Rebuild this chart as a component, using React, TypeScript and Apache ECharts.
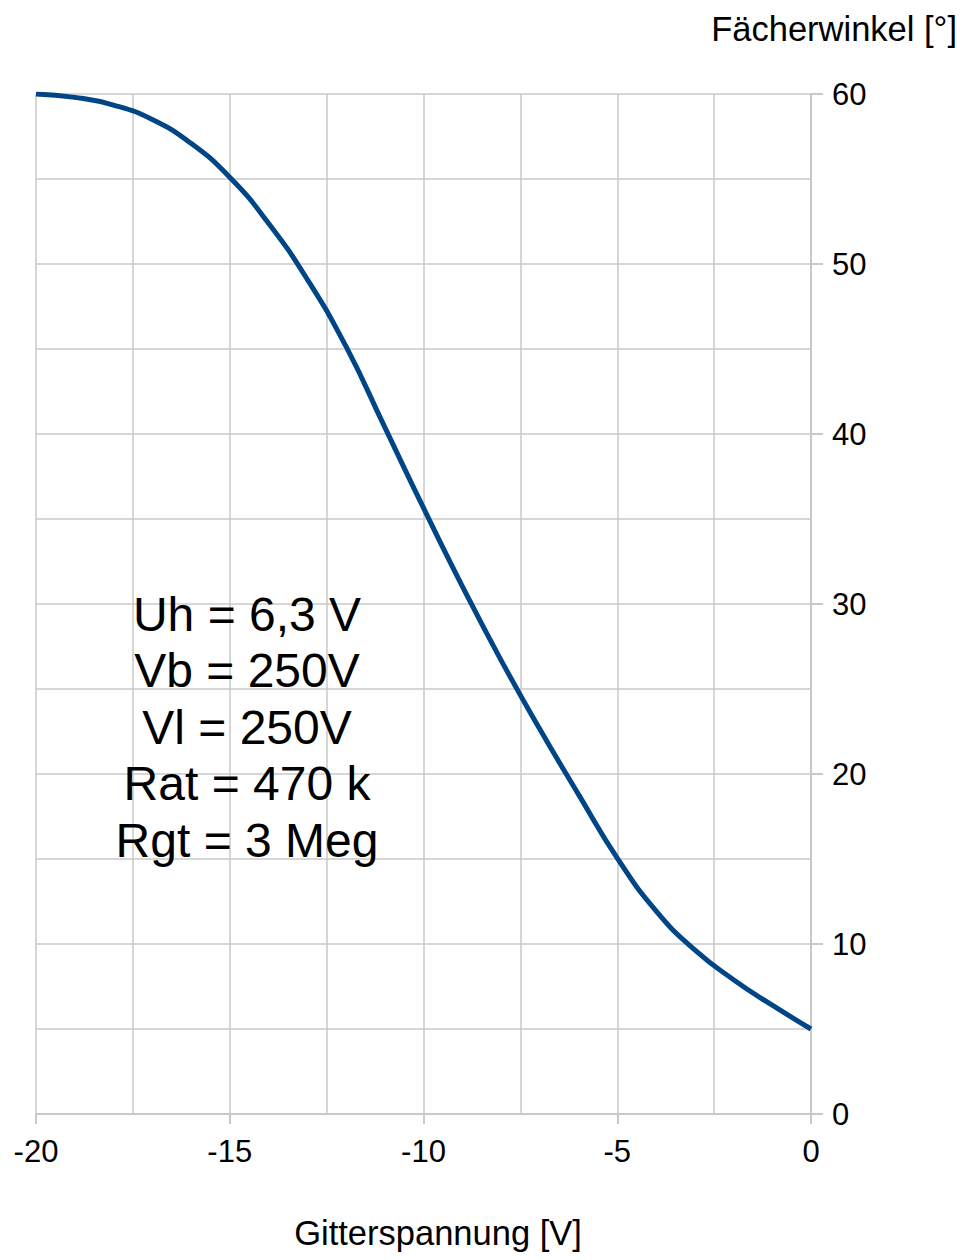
import React, { useEffect, useRef } from "react";
import * as echarts from "echarts";

const gridVoltage = [-20, -19, -18, -17, -16, -15, -14, -13, -12, -11, -10, -9, -8, -7, -6, -5, -4, -3, -2, -1, 0];
const fanAngle = [60, 59.8, 59.35, 58.5, 57.1, 55.1, 52.4, 49.1, 45.15, 40.4, 35.65, 31.05, 26.7, 22.65, 18.8, 15.05, 11.95, 9.65, 7.9, 6.4, 5.0];
const annotationLines = ["Uh = 6,3 V", "Vb = 250V", "Vl = 250V", "Rat = 470 k", "Rgt = 3 Meg"];
const xAxisTitle = "Gitterspannung [V]";
const yAxisTitle = "Fächerwinkel [°]";

export default function App() {
  const ref = useRef<HTMLDivElement>(null);
  useEffect(() => {
    if (!ref.current) return;
    const chart = echarts.init(ref.current, null, { renderer: "svg" });
    const gridColor = "#c8c8c8";
    const mainFont = "'Liberation Sans', Arial, sans-serif";
    chart.setOption({
      animation: false,
      backgroundColor: "#ffffff",
      grid: { left: 36, right: 154, top: 94, bottom: 146, containLabel: false },
      xAxis: {
        type: "value",
        min: -20,
        max: 0,
        interval: 5,
        axisLine: { show: true, lineStyle: { color: gridColor, width: 2 } },
        axisTick: { show: true, length: 10, lineStyle: { color: gridColor, width: 2 } },
        minorTick: { show: false, splitNumber: 2 },
        splitLine: { show: true, lineStyle: { color: gridColor, width: 1.5 } },
        minorSplitLine: { show: true, lineStyle: { color: gridColor, width: 1.5 } },
        axisLabel: { color: "#000", fontSize: 31, fontFamily: mainFont, margin: 22 },
      },
      yAxis: {
        type: "value",
        position: "right",
        min: 0,
        max: 60,
        interval: 10,
        axisLine: { show: true, lineStyle: { color: gridColor, width: 2 } },
        axisTick: { show: true, length: 12, lineStyle: { color: gridColor, width: 2 } },
        minorTick: { show: false, splitNumber: 2 },
        splitLine: { show: true, lineStyle: { color: gridColor, width: 1.5 } },
        minorSplitLine: { show: true, lineStyle: { color: gridColor, width: 1.5 } },
        axisLabel: { color: "#000", fontSize: 31, fontFamily: mainFont, margin: 21 },
      },
      series: [
        {
          type: "line",
          data: gridVoltage.map((v, i) => [v, fanAngle[i]]),
          smooth: 0.5,
          showSymbol: false,
          symbol: "none",
          lineStyle: { color: "#004586", width: 5 },
          z: 5,
        },
      ],
      graphic: [
        {
          type: "text",
          x: 957,
          y: 29,
          style: {
            text: yAxisTitle,
            fontSize: 34.5,
            fontFamily: mainFont,
            fill: "#000",
            align: "right",
            verticalAlign: "middle",
          },
        },
        {
          type: "text",
          x: 438,
          y: 1233,
          style: {
            text: xAxisTitle,
            fontSize: 34.5,
            fontFamily: mainFont,
            fill: "#000",
            align: "center",
            verticalAlign: "middle",
          },
        },
        {
          type: "text",
          x: 247,
          y: 727,
          z: 10,
          style: {
            text: annotationLines.join("\n"),
            fontSize: 48,
            lineHeight: 56.5,
            fontFamily: mainFont,
            fill: "#000",
            align: "center",
            verticalAlign: "middle",
          },
        },
      ],
    });
    return () => chart.dispose();
  }, []);
  return (
    <div
      ref={ref}
      style={{ position: "fixed", left: 0, top: 0, width: 965, height: 1260, background: "#fff" }}
    />
  );
}
